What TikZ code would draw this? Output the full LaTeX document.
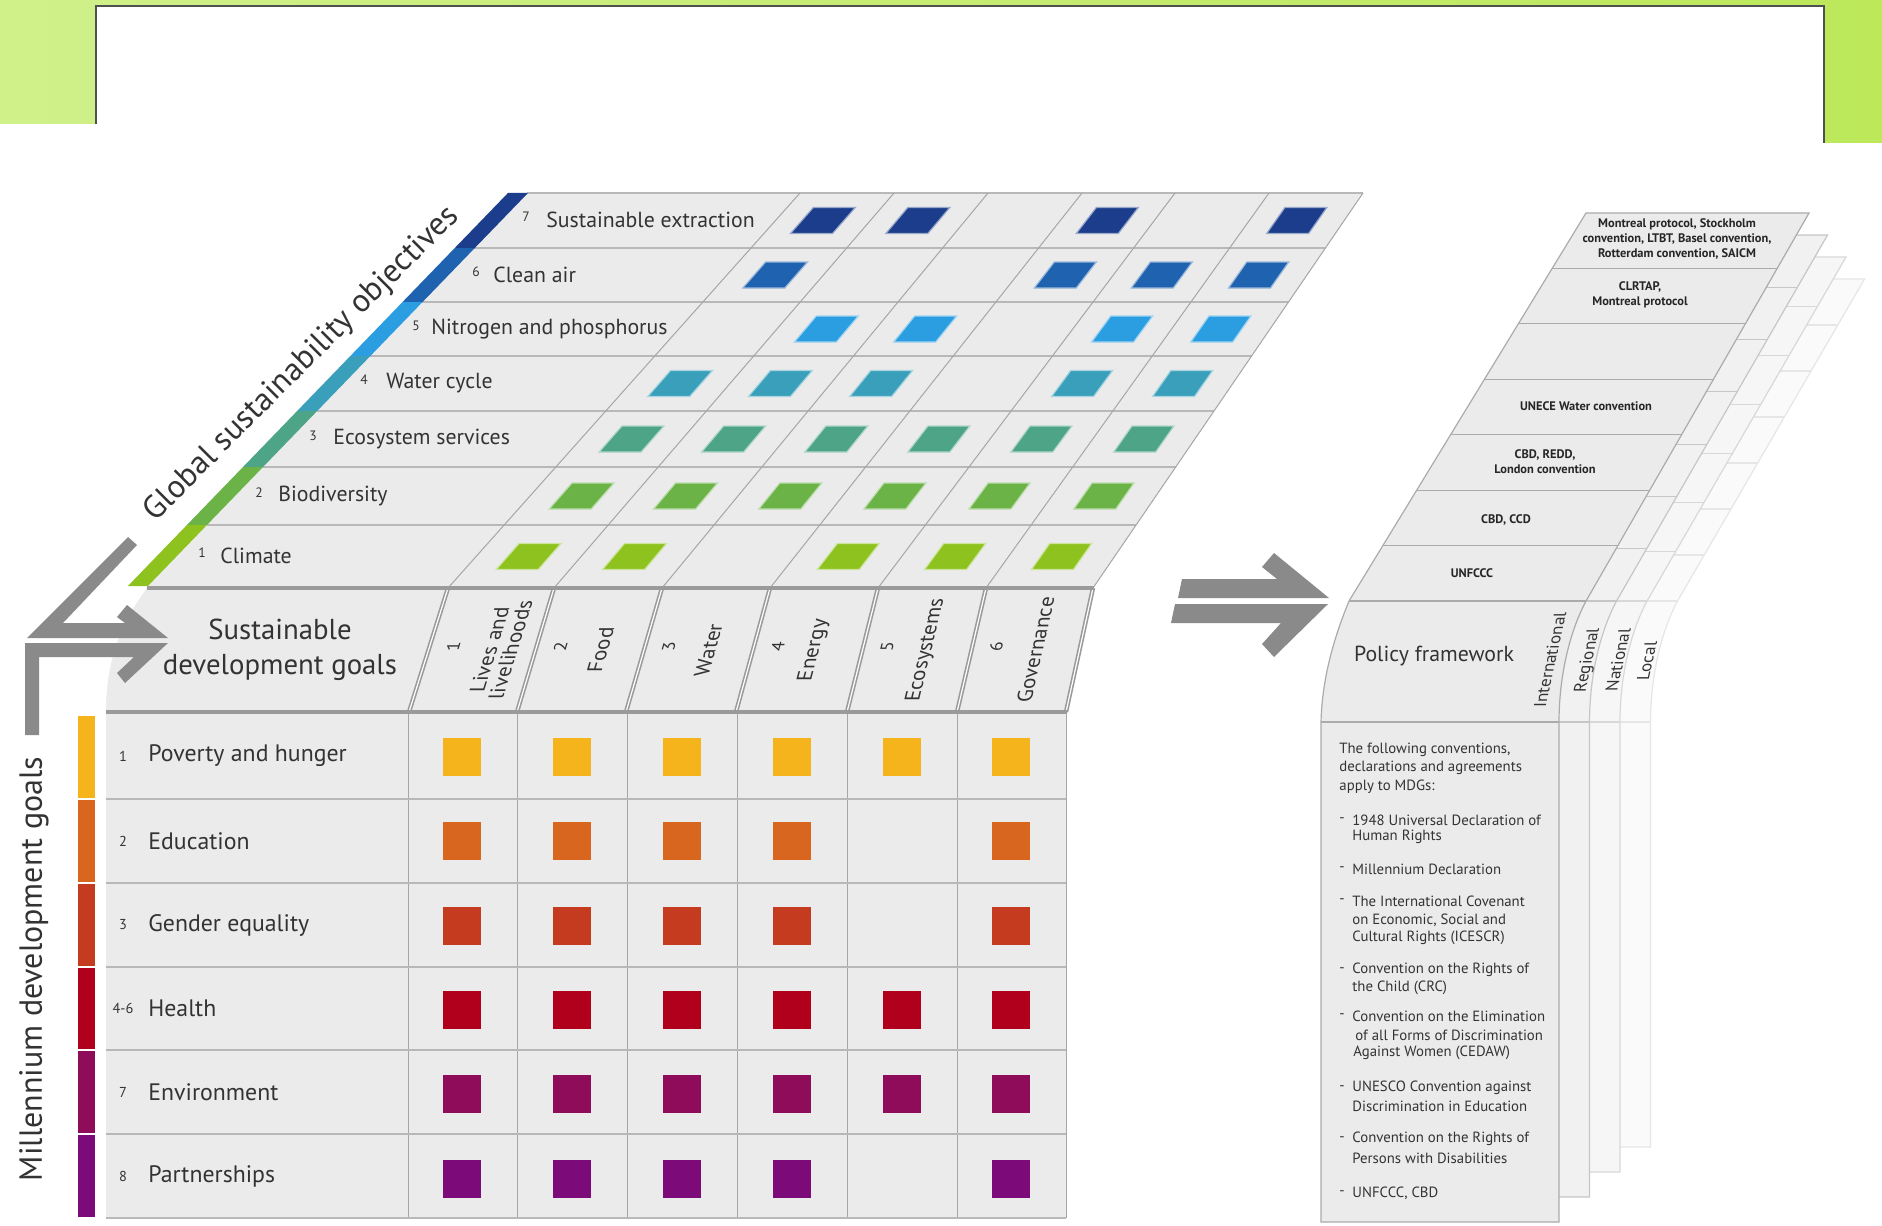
\documentclass[tikz,border=0pt]{standalone}
\usepackage{fontspec}
\setmainfont{PT Sans}
\usetikzlibrary{calc}
\definecolor{lgA}{HTML}{D0F08A}
\definecolor{lgB}{HTML}{BCE85A}
\definecolor{frameg}{HTML}{505050}
\definecolor{gfill}{HTML}{EBEBEB}
\definecolor{rowl}{HTML}{B8B8B8}
\definecolor{coll}{HTML}{A6A6A6}
\definecolor{hdrl}{HTML}{9A9A9A}
\definecolor{txt}{HTML}{333333}
\definecolor{arrowg}{HTML}{8A8A8A}
\definecolor{g7}{HTML}{1B3D8C}
\definecolor{g6}{HTML}{1F62B0}
\definecolor{g5}{HTML}{2A9EE0}
\definecolor{g4}{HTML}{3A9FBA}
\definecolor{g3}{HTML}{4DA487}
\definecolor{g2}{HTML}{6BB347}
\definecolor{g1}{HTML}{8DC21F}
\definecolor{m1}{HTML}{F6B41C}
\definecolor{m2}{HTML}{D8661F}
\definecolor{m3}{HTML}{C53B20}
\definecolor{m4}{HTML}{B1001C}
\definecolor{m5}{HTML}{8F0C5B}
\definecolor{m6}{HTML}{7C0A79}
\definecolor{lf0}{HTML}{EBEBEB}\definecolor{ld0}{HTML}{ABABAB}
\definecolor{lf1}{HTML}{F1F1F1}\definecolor{ld1}{HTML}{C6C6C6}
\definecolor{lf2}{HTML}{F6F6F6}\definecolor{ld2}{HTML}{D8D8D8}
\definecolor{lf3}{HTML}{FAFAFA}\definecolor{ld3}{HTML}{E6E6E6}
\newcommand\fsz[2]{\fontsize{#1}{#2}\selectfont}
\begin{document}
\begin{tikzpicture}[x=0.5pt,y=-0.5pt,
  lab/.style={text=txt, inner sep=0pt},
  rowline/.style={draw=rowl, line width=1pt},
  colline/.style={draw=coll, line width=0.5pt},
  arrowshape/.style={fill=arrowg}]
\useasboundingbox (0,0) rectangle (1882,1225);
\fill[white] (0,0) rectangle (1882,1225);
% ---------- green band and white title box
\shade[left color=lgA, right color=lgB] (0,0) -- (1882,0) -- (1882,143) -- (1824,143) -- (1824,6) -- (96,6) -- (96,124) -- (0,124) -- cycle;
\draw[frameg, line width=1pt] (96,124) -- (96,6) -- (1824,6) -- (1824,143);
% ---------- top grid (global sustainability objectives)
\fill[gfill] (146,588) -- (527,193) -- (1363,193) -- (1093,588) -- cycle;
\foreach \yy in {193,248,302,356,411,467,525}{
  \pgfmathsetmacro\xa{146+381/395*(588-\yy)}
  \pgfmathsetmacro\xb{1093+270/395*(588-\yy)}
  \draw[rowline] (\xa,\yy) -- (\xb,\yy);
}
\foreach \b/\t in {448/800,554/894,662/988,770/1082,878/1175,986/1269,1093/1363}
  \draw[colline] (\b,588) -- (\t,193);
% stripe
\foreach \i/\clr in {0/g7,1/g6,2/g5,3/g4,4/g3,5/g2,6/g1}{
  \pgfmathsetmacro\ya{{193,248,302,356,411,467,525,586}[\i]}
  \pgfmathsetmacro\yb{{193,248,302,356,411,467,525,586}[\i+1]}
  \fill[\clr] ({126+0.967*(588-\ya)},\ya) -- ({146+0.967*(588-\ya)},\ya) -- ({146+0.967*(588-\yb)},\yb) -- ({126+0.967*(588-\yb)},\yb) -- cycle;
}
% markers
\foreach \i/\cols/\clr in {0/{0,1,3,5}/g7,1/{0,3,4,5}/g6,2/{1,2,4,5}/g5,3/{0,1,2,4,5}/g4,4/{0,1,2,3,4,5}/g3,5/{0,1,2,3,4,5}/g2,6/{0,1,3,4,5}/g1}{
  \pgfmathsetmacro\ya{{193,248,302,356,411,467,525,588}[\i]}
  \pgfmathsetmacro\yb{{193,248,302,356,411,467,525,588}[\i+1]}
  \pgfmathsetmacro\cy{(\ya+\yb)/2}
  \foreach \k in \cols {
    \pgfmathsetmacro\bA{{448,554,662,770,878,986,1093}[\k]}
    \pgfmathsetmacro\tA{{800,894,988,1082,1175,1269,1363}[\k]}
    \pgfmathsetmacro\bB{{448,554,662,770,878,986,1093}[\k+1]}
    \pgfmathsetmacro\tB{{800,894,988,1082,1175,1269,1363}[\k+1]}
    \pgfmathsetmacro\slp{((\tA-\bA)+(\tB-\bB))/2/395}
    \pgfmathsetmacro\cx{(\bA+\bB)/2+\slp*(588-\cy)}
    \filldraw[fill=\clr, draw=\clr!45!white, line width=0.6pt] ({\cx-21+13*\slp},{\cy-13}) -- ({\cx+21+13*\slp},{\cy-13}) -- ({\cx+21-13*\slp},{\cy+13}) -- ({\cx-21-13*\slp},{\cy+13}) -- cycle;
  }
}
% GSO labels
\foreach \n/\t/\xn/\xt/\yy in {7/Sustainable extraction/526/546/220, 6/Clean air/476/493/275, 5/Nitrogen and phosphorus/416/431/329, 4/Water cycle/364/386/383, 3/Ecosystem services/313/333/439, 2/Biodiversity/259/278/496, 1/Climate/202/220/556}{
  \node[lab, font=\fsz{6.8}{7}] (gn\n) at (\xn,\yy-3) {\n};
  \node[lab, font=\fsz{10.9}{12}, anchor=west] (gl\n) at (\xt,\yy) {\t};
}
\node[lab, rotate=45, font=\fsz{16.2}{18}] (gsoaxis) at (302,364) {Global sustainability objectives};
% ---------- SDG header and MDG grid
\fill[gfill] (147,588) .. controls (118,628) and (106,665) .. (106,712) -- (106,1218) -- (1066,1218) -- (1066,712) -- (1093,588) -- cycle;
\foreach \xx in {408,517,627,737,847,957,1066}
  \draw[colline] (\xx,712) -- (\xx,1218);
\foreach \yy in {799,883,967,1050,1134,1218}
  \draw[rowline] (106,\yy) -- (1066,\yy);
\foreach \a/\b in {448/409,554/517,662/626,770/736,878/847,986/957,1093/1066}{
  \draw[hdrl, line width=2.2pt] (\b,712) -- (\a,588);
  \draw[white, line width=0.6pt] (\b,712) -- (\a,588);
}
\draw[hdrl, line width=1.6pt] (147,588) -- (1094,588);
\draw[hdrl, line width=1.6pt] (106,712) -- (1067,712);
\node[lab, align=center, font=\fsz{14.4}{17.5}] (sdghdr) at (280,650) {Sustainable\\development goals};
\foreach \k/\n/\t/\dx in {0/1/{Lives and\\livelihoods}/18, 1/2/Food/11, 2/3/Water/10, 3/4/Energy/6, 4/5/Ecosystems/9, 5/6/Governance/10}{
  \pgfmathsetmacro\stA{{448,554,662,770,878,986,1093}[\k]}
  \pgfmathsetmacro\stB{{448,554,662,770,878,986,1093}[\k+1]}
  \pgfmathsetmacro\sbA{{409,517,626,736,847,957,1066}[\k]}
  \pgfmathsetmacro\sbB{{409,517,626,736,847,957,1066}[\k+1]}
  \pgfmathsetmacro\cx{(\stA+\stB+\sbA+\sbB)/4+\dx}
  \pgfmathsetmacro\nx{\sbA+(\stA-\sbA)*65/124+24}
  \pgfmathsetmacro\slp{((\stA-\sbA)+(\stB-\sbB))/2/124}
  \node[lab, font=\fsz{8.8}{9}, xslant=\slp, rotate=90] (sdgn\k) at (\nx,647) {\n};
  \node[lab, align=center, font=\fsz{10.6}{10.5}, xslant=\slp, rotate=90] (sdg\k) at (\cx,650) {\t};
}
% MDG bar, labels and squares
\foreach \clr/\ya/\yb in {m1/716/798, m2/800/882, m3/884/966, m4/968/1049, m5/1051/1133, m6/1135/1217}
  \fill[\clr] (78,\ya) rectangle (95,\yb);
\foreach \n/\t/\yy [count=\c] in {1/Poverty and hunger/756, 2/Education/841, 3/Gender equality/925, 4-6/Health/1008, 7/Environment/1092, 8/Partnerships/1176}{
  \node[lab, font=\fsz{7.2}{8}] (mn\c) at (123,\yy) {\n};
  \node[lab, font=\fsz{11.9}{13}, anchor=west] (ml\c) at (148,\yy) {\t};
}
\foreach \cols/\clr/\yy in {{0,1,2,3,4,5}/m1/757, {0,1,2,3,5}/m2/841, {0,1,2,3,5}/m3/926, {0,1,2,3,4,5}/m4/1010, {0,1,2,3,4,5}/m5/1094, {0,1,2,3,5}/m6/1179}{
  \foreach \k in \cols {
    \pgfmathsetmacro\cx{{462,572,682,792,902,1011}[\k]}
    \fill[\clr] ({\cx-19},{\yy-19}) rectangle ({\cx+19},{\yy+19});
  }
}
\node[lab, rotate=90, font=\fsz{16}{18}] (mdgaxis) at (34,969) {Millennium development goals};
% ---------- left grey arrows
\fill[arrowshape] (128,537) -- (137,545) -- (63,623) -- (125,623) -- (117,617) -- (127,605) -- (168,638) -- (27,638) -- cycle;
\fill[arrowshape] (168,643) -- (25,643) -- (25,735) -- (39,735) -- (39,657) -- (134,657) -- (117,673) -- (125,683) -- cycle;
% ---------- right double arrow
\fill[arrowshape] (1182,579) -- (1277,579) -- (1262,567) -- (1274,553) -- (1329,598) -- (1178,598) -- cycle;
\fill[arrowshape] (1175,604) -- (1328,604) -- (1274,657) -- (1262,644) -- (1281,623) -- (1171,623) -- cycle;
% ---------- policy framework layers
\foreach \k in {3,2,1,0}{
  \pgfmathsetmacro\ox{30.5*\k}
  \pgfmathsetmacro\tx{18.5*\k}
  \pgfmathsetmacro\ty{22*\k}
  \pgfmathsetmacro\by{1222-25*\k}
  \filldraw[fill=lf\k, draw=ld\k, line width=0.6pt] ({1586+\tx},{213+\ty}) -- ({1809+\tx},{213+\ty}) -- ({1586+\ox},601) .. controls ({1568+\ox},635) and ({1559+\ox},680) .. ({1559+\ox},722) -- ({1559+\ox},\by) -- ({1321+\ox},\by) -- ({1321+\ox},722) .. controls ({1322+\ox},680) and ({1333+\ox},640) .. ({1349+\ox},601) -- cycle;
  \foreach \j in {1,...,6}{
    \pgfmathsetmacro\yy{213+\ty+\j*(388-\ty)/7}
    \pgfmathsetmacro\xl{1349+\ox+(1586+\tx-1349-\ox)/(388-\ty)*(601-\yy)}
    \pgfmathsetmacro\xr{1586+\ox+(1809+\tx-1586-\ox)/(388-\ty)*(601-\yy)}
    \draw[ld\k, line width=0.6pt] (\xl,\yy) -- (\xr,\yy);
  }
  \draw[ld\k, line width=0.6pt] ({1349+\ox},601) -- ({1586+\ox},601);
  \draw[ld\k, line width=0.6pt] ({1321+\ox},722) -- ({1559+\ox},722);
}
\node[lab, font=\fsz{10.9}{12}] (pf) at (1434,656) {Policy framework};
\node[lab, font=\fsz{8.6}{9}, xslant=0.22, rotate=90] (lv0) at (1550,660) {International};
\node[lab, font=\fsz{8.6}{9}, xslant=0.22, rotate=90] (lv1) at (1588,660) {Regional};
\node[lab, font=\fsz{8.6}{9}, xslant=0.22, rotate=90] (lv2) at (1618,660) {National};
\node[lab, font=\fsz{8.6}{9}, xslant=0.22, rotate=90] (lv3) at (1647,661) {Local};
\foreach \xx/\yy/\t [count=\c] in {1677/239/{Montreal protocol, Stockholm\\convention, LTBT, Basel convention,\\Rotterdam convention, SAICM}, 1640/295/{CLRTAP,\\Montreal protocol}, 1586/406/{UNECE Water convention}, 1545/462/{CBD, REDD,\\London convention}, 1506/520/{CBD, CCD}, 1472/573/{UNFCCC}}
  \node[lab, text=black!85, align=center, font=\bfseries\fsz{6.2}{7.4}] (pr\c) at (\xx,\yy) {\t};
\foreach \xx/\yy/\t [count=\c] in {1339/750/{The following conventions,}, 1339/768/{declarations and agreements}, 1339/787/{apply to MDGs:}, 1352/820/{1948 Universal Declaration of}, 1352/837/{Human Rights}, 1352/869/{Millennium Declaration}, 1352/901/{The International Covenant}, 1352/920/{on Economic, Social and}, 1352/938/{Cultural Rights (ICESCR)}, 1352/970/{Convention on the Rights of}, 1352/988/{the Child (CRC)}, 1352/1016/{Convention on the Elimination}, 1355/1035/{of all Forms of Discrimination}, 1353/1053/{Against Women (CEDAW)}, 1352/1088/{UNESCO Convention against}, 1352/1106/{Discrimination in Education}, 1352/1139/{Convention on the Rights of}, 1352/1158/{Persons with Disabilities}, 1352/1193/{UNFCCC, CBD}}
  \node[lab, anchor=west, font=\fsz{7.4}{8}] (bx\c) at (\xx,\yy) {\t};
\foreach \yy [count=\c] in {820,869,901,970,1016,1088,1139,1193}
  \node[lab, font=\fsz{7.4}{8}] (dash\c) at (1342,\yy) {-};
\end{tikzpicture}
\end{document}
